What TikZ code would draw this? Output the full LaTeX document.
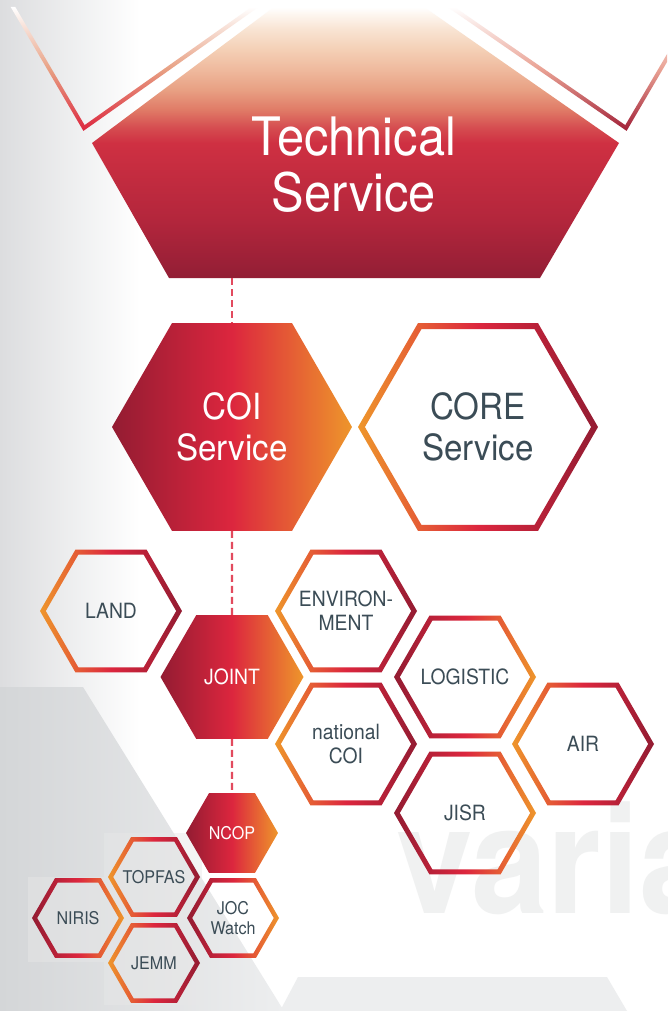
\documentclass[tikz,border=0pt]{standalone}
\usepackage{fontspec}
\setmainfont{TeX Gyre Heros}[FakeStretch=0.92]
\usepackage{xcolor}
\usetikzlibrary{shapes.geometric}
\definecolor{hexdark}{HTML}{931C32}
\definecolor{hexred}{HTML}{DC263E}
\definecolor{hexorange}{HTML}{EE962B}
\definecolor{slate}{HTML}{3B4C56}
\definecolor{linkred}{HTML}{E24A5E}
\definecolor{bggray}{HTML}{DCDDDF}
\definecolor{wedgegray}{HTML}{D4D6D8}
\definecolor{faint}{HTML}{EDEEEF}
\definecolor{ghost}{HTML}{F0F1F1}
\definecolor{tsA}{HTML}{921E35}
\definecolor{tsB}{HTML}{B3263C}
\definecolor{tsC}{HTML}{CF3042}
\definecolor{tsD}{HTML}{D54C50}
\definecolor{tsE}{HTML}{E07A66}
\definecolor{tsF}{HTML}{E8A083}
\definecolor{tsG}{HTML}{EFB99D}
\definecolor{tsH}{HTML}{F4CFB5}
\definecolor{tsI}{HTML}{F8E3D2}
\definecolor{tsJ}{HTML}{FDF5EE}
\pgfdeclareverticalshading{tsfade}{100bp}{color(0bp)=(tsA); color(25bp)=(tsA);
  color(35.7bp)=(tsB); color(49.9bp)=(tsC); color(52.7bp)=(tsD); color(56bp)=(tsE);
  color(59.7bp)=(tsF); color(63.4bp)=(tsG); color(67.1bp)=(tsH); color(70.8bp)=(tsI);
  color(73.5bp)=(tsJ); color(75bp)=(white); color(100bp)=(white)}
% ring between two hexagons: style, centre, outer and inner radius
\newcommand{\hexring}[4]{\shade[#1, even odd rule, shift={(#2)}]
  (0:#3) -- (60:#3) -- (120:#3) -- (180:#3) -- (240:#3) -- (300:#3) -- cycle
  (0:#4) -- (60:#4) -- (120:#4) -- (180:#4) -- (240:#4) -- (300:#4) -- cycle;}
\tikzset{
  hex/.style={regular polygon, regular polygon sides=6, inner sep=0pt, outer sep=0pt,
    align=center, text=slate},
  bighex/.style={hex, minimum size=240pt, font=\fontsize{36}{41}\selectfont},
  midhex/.style={hex, minimum size=143pt, font=\fontsize{21}{24}\selectfont},
  smallhex/.style={hex, minimum size=92pt, font=\fontsize{17.5}{20}\selectfont},
  hexfill/.style={left color=hexdark, right color=hexorange, middle color=hexred, text=white},
  warm/.style={left color=hexorange, right color=hexdark, middle color=hexred},
  cool/.style={left color=hexdark, right color=hexorange, middle color=hexred},
  link/.style={draw=linkred, line width=2.2pt, dash pattern=on 7pt off 4pt},
  title/.style={text=white, align=center, font=\fontsize{53}{56}\selectfont}
}
\begin{document}
\begin{tikzpicture}[x=1pt, y=-1pt]
  \useasboundingbox (0,0) rectangle (667,1011);
  \clip (0,0) rectangle (667,1011);
  % backdrop
  \fill[white] (0,0) rectangle (667,1011);
  \shade[left color=bggray, right color=white] (0,0) rectangle (140,1011);
  \shade[left color=wedgegray, right color=faint] (0,687) -- (83,687) -- (284,1011) -- (0,1011) -- cycle;
  \fill[black!9, opacity=0.45] (28,877) rectangle (104,962);
  \fill[black!9, opacity=0.45] (104,833) rectangle (202,1005);
  \node[anchor=base west, inner sep=0pt, text=ghost, font=\fontsize{150}{150}\bfseries\selectfont] (varia) at (396,913) {varia};
  \fill[faint] (298,977) -- (607,977) -- (627,1011) -- (280,1011) -- cycle;

  % technical service
  \shade[top color=white, bottom color=hexred, middle color=tsF]
    (10.7,7) -- (83.4,130.9) -- (258.5,7) -- (251.5,7) -- (84.6,125.1) -- (15.3,7) -- cycle;
  \shade[top color=white, bottom color=tsA!80!hexred, middle color=tsE!70!white]
    (447.5,7) -- (626.6,130.9) -- (699.3,7) -- (694.7,7) -- (625.3,125.1) -- (454.5,7) -- cycle;
  \shade[shading=tsfade] (92,143) -- (169,278) -- (540,278) -- (619,143) -- (424,7) -- (274,7) -- cycle;
  \node[title] (ts) at (354,165) {Technical\\Service};
  \coordinate (tsfoot) at (232,278);

  % hexagons
  \node[bighex, hexfill] (coi) at (232,427) {COI\\Service};
  \node[bighex] (core) at (478,427) {CORE\\Service};
  \node[midhex] (land) at (111,611) {LAND};
  \node[midhex] (env) at (346,611) {ENVIRON-\\MENT};
  \node[midhex, hexfill] (joint) at (232,677) {JOINT};
  \node[midhex] (logistic) at (465,677) {LOGISTIC};
  \node[midhex] (natcoi) at (346,744) {national\\COI};
  \node[midhex] (air) at (583,744) {AIR};
  \node[midhex] (jisr) at (465,813) {JISR};
  \node[smallhex, hexfill] (ncop) at (232,833) {NCOP};
  \node[smallhex] (topfas) at (154,877) {TOPFAS};
  \node[smallhex] (niris) at (78,918) {NIRIS};
  \node[smallhex] (joc) at (233,918) {JOC\\Watch};
  \node[smallhex] (jemm) at (154,963) {JEMM};

  \hexring{warm}{core}{120}{113.1}
  \hexring{warm}{land}{71}{65.2}
  \hexring{warm}{env}{71}{65.2}
  \hexring{cool}{logistic}{71}{65.2}
  \hexring{warm}{natcoi}{71}{65.2}
  \hexring{warm}{air}{71}{65.2}
  \hexring{cool}{jisr}{71}{65.2}
  \hexring{warm}{topfas}{46}{40.8}
  \hexring{cool}{niris}{46}{40.8}
  \hexring{cool}{joc}{46}{40.8}
  \hexring{warm}{jemm}{46}{40.8}

  % links
  \draw[link] (tsfoot) -- (coi);
  \draw[link] (coi) -- (joint);
  \draw[link] (joint) -- (ncop);
\end{tikzpicture}
\end{document}
